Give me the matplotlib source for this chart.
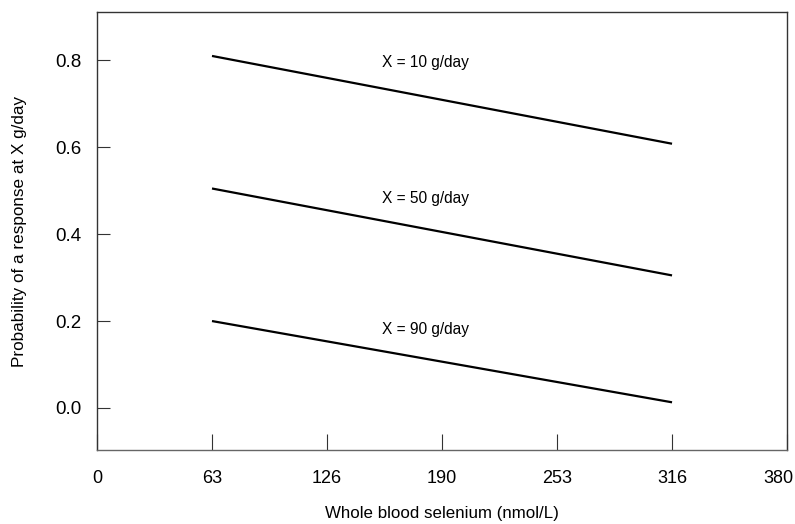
import matplotlib
matplotlib.use("Agg")
import matplotlib.pyplot as plt
import matplotlib.transforms as mtransforms

plt.rcParams['font.family'] = ['Liberation Sans', 'DejaVu Sans']

# Selenium range over which the fitted lines are drawn (nmol/L)
selenium_range = [380 / 6, 380 * 5 / 6]

# Fitted probability of response at each end of the range, per dose
doses = ["X = 10 g/day", "X = 50 g/day", "X = 90 g/day"]
prob_start = [0.81, 0.505, 0.20]
prob_end = [0.608, 0.305, 0.013]

# Label anchor positions (data coordinates)
label_x = [181, 181, 181]
label_y = [0.785, 0.472, 0.171]

x_ticks = [380 * i / 6 for i in range(7)]
x_ticklabels = ["0", "63", "126", "190", "253", "316", "380"]
y_ticks = [0.0, 0.2, 0.4, 0.6, 0.8]

fig = plt.figure(figsize=(7.95, 5.24), dpi=100)
ax = fig.add_axes([0.122, 0.141, 0.868, 0.836])

for p0, p1, name, lx, ly in zip(prob_start, prob_end, doses, label_x, label_y):
    ax.plot(selenium_range, [p0, p1], color="black", lw=1.6, solid_capstyle="butt")
    ax.text(lx, ly, name, ha="center", va="baseline", fontsize=11.2)

ax.set_xlim(0, 380)
ax.set_ylim(-0.097, 0.911)
ax.set_xticks(x_ticks)
ax.set_xticklabels(x_ticklabels, fontsize=13)
ax.set_yticks(y_ticks)
ax.set_yticklabels([f"{v:.1f}" for v in y_ticks], fontsize=13.5)

ax.tick_params(axis="x", direction="in", length=11.5, width=0.8, pad=14, color="#333333")
ax.tick_params(axis="y", direction="in", length=9.5, width=0.8, pad=11.5, color="#333333")
ax.tick_params(top=False, right=False)

# keep the last x tick label inside the figure
last = ax.get_xticklabels()[-1]
last.set_transform(last.get_transform() +
                   mtransforms.ScaledTranslation(-9 / 100, 0, fig.dpi_scale_trans))

for side, sp in ax.spines.items():
    sp.set_linewidth(1.0)
    sp.set_color("#333333")
ax.spines["bottom"].set_color("#666666")

ax.set_xlabel("Whole blood selenium (nmol/L)", fontsize=12.2, labelpad=14)
ax.set_ylabel("Probability of a response at X g/day", fontsize=12.3, labelpad=20)

fig.savefig("out.png", dpi=100)
